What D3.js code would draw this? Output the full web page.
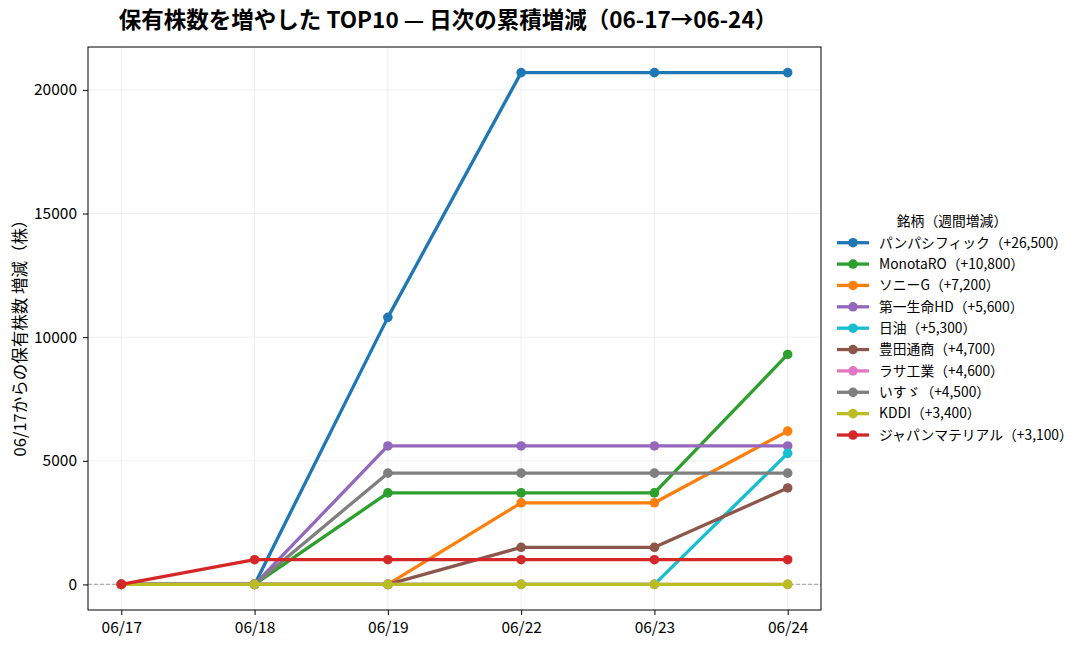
<!DOCTYPE html>
<html>
<head>
<meta charset="utf-8">
<script src="https://cdn.jsdelivr.net/npm/d3@7/dist/d3.min.js"></script>
<style>
  body { margin: 0; background: #fff; }
  text { font-family: "Noto Sans CJK JP", "Noto Sans", sans-serif; }
</style>
</head>
<body>
<div id="chart"></div>
<script>
const dates = ["06/17", "06/18", "06/19", "06/22", "06/23", "06/24"];
const names = ["パンパシフィック", "MonotaRO", "ソニーG", "第一生命HD", "日油", "豊田通商", "ラサ工業", "いすゞ", "KDDI", "ジャパンマテリアル"];
const weekly = [26500, 10800, 7200, 5600, 5300, 4700, 4600, 4500, 3400, 3100];
const colors = ["#1f77b4", "#2ca02c", "#ff7f0e", "#9467bd", "#17becf", "#8c564b", "#e377c2", "#7f7f7f", "#bcbd22", "#d62728"];
const values = [
  [0, 0, 10800, 20700, 20700, 20700],
  [0, 0, 3700, 3700, 3700, 9300],
  [0, 0, 0, 3300, 3300, 6200],
  [0, 0, 5600, 5600, 5600, 5600],
  [0, 0, 0, 0, 0, 5300],
  [0, 0, 0, 1500, 1500, 3900],
  [0, 0, 0, 0, 0, 0],
  [0, 0, 4500, 4500, 4500, 4500],
  [0, 0, 0, 0, 0, 0],
  [0, 1000, 1000, 1000, 1000, 1000]
];
const yTicks = [0, 5000, 10000, 15000, 20000];

const W = 1087, H = 649;
const plot = {left: 88, right: 821, top: 47, bottom: 610};

const svg = d3.select("#chart").append("svg")
  .attr("width", W).attr("height", H);

const x = d3.scalePoint()
  .domain(dates)
  .range([plot.left, plot.right])
  .padding(0.25);

const maxV = d3.max(values.flat()), minV = d3.min(values.flat());
const pad = (maxV - minV) * 0.05;
const y = d3.scaleLinear()
  .domain([minV - pad, maxV + pad])
  .range([plot.bottom, plot.top]);

// grid
svg.append("g").selectAll("line.gy")
  .data(yTicks).enter().append("line")
    .attr("x1", plot.left).attr("x2", plot.right)
    .attr("y1", d => y(d)).attr("y2", d => y(d))
    .attr("stroke", "#ebebeb").attr("stroke-width", 0.8);
svg.append("g").selectAll("line.gx")
  .data(dates).enter().append("line")
    .attr("x1", d => x(d)).attr("x2", d => x(d))
    .attr("y1", plot.top).attr("y2", plot.bottom)
    .attr("stroke", "#ebebeb").attr("stroke-width", 0.8);

// zero line
svg.append("line")
  .attr("x1", plot.left).attr("x2", plot.right)
  .attr("y1", y(0)).attr("y2", y(0))
  .attr("stroke", "#b0b0b0").attr("stroke-width", 1.2)
  .attr("stroke-dasharray", "4,2");

const line = d3.line()
  .x((d, i) => x(dates[i]))
  .y(d => y(d));

values.forEach((vals, k) => {
  const g = svg.append("g");
  g.append("path")
    .attr("d", line(vals))
    .attr("fill", "none")
    .attr("stroke", colors[k])
    .attr("stroke-width", 3.3)
    .attr("stroke-linejoin", "round");
  g.selectAll("circle")
    .data(vals).enter().append("circle")
      .attr("cx", (d, i) => x(dates[i]))
      .attr("cy", d => y(d))
      .attr("r", 4.8)
      .attr("fill", colors[k]);
});

// axes
const xAxis = svg.append("g")
  .attr("transform", "translate(0," + plot.bottom + ")")
  .call(d3.axisBottom(x).tickSizeOuter(0).tickSize(5).tickPadding(5));
const yAxis = svg.append("g")
  .attr("transform", "translate(" + plot.left + ",0)")
  .call(d3.axisLeft(y).tickValues(yTicks).tickFormat(d3.format("d"))
    .tickSizeOuter(0).tickSize(5).tickPadding(6));
[xAxis, yAxis].forEach(a => {
  a.select(".domain").remove();
  a.selectAll("text").attr("font-size", 15.5).attr("fill", "#000")
    .style("font-family", "'Noto Sans CJK JP', sans-serif");
  a.selectAll("line").attr("stroke", "#000").attr("stroke-width", 1);
});
xAxis.selectAll("text").attr("dy", "0.85em");

// frame
svg.append("rect")
  .attr("x", plot.left).attr("y", plot.top)
  .attr("width", plot.right - plot.left).attr("height", plot.bottom - plot.top)
  .attr("fill", "none").attr("stroke", "#000").attr("stroke-width", 1);

// title
svg.append("text")
  .attr("x", 448).attr("y", 28)
  .attr("text-anchor", "middle")
  .attr("font-size", 22.5).attr("font-weight", "bold")
  .text("保有株数を増やした TOP10 — 日次の累積増減（06-17→06-24）");

// y label
svg.append("text")
  .attr("transform", "translate(26,334) rotate(-90)")
  .attr("text-anchor", "middle")
  .attr("font-size", 16.5)
  .text("06/17からの保有株数 増減（株）");

// legend
const lg = svg.append("g").attr("transform", "translate(837,0)");
lg.append("text")
  .attr("x", 115).attr("y", 226)
  .attr("text-anchor", "middle")
  .attr("font-size", 13.8)
  .text("銘柄（週間増減）");
names.forEach((n, k) => {
  const yy = 242.7 + k * 21.37;
  lg.append("line")
    .attr("x1", 0).attr("x2", 32).attr("y1", yy).attr("y2", yy)
    .attr("stroke", colors[k]).attr("stroke-width", 3.3);
  lg.append("circle")
    .attr("cx", 16).attr("cy", yy).attr("r", 4.8).attr("fill", colors[k]);
  lg.append("text")
    .attr("x", 42).attr("y", yy + 4.8)
    .attr("font-size", 13.8)
    .text(n + "（+" + d3.format(",")(weekly[k]) + "）");
});
</script>
</body>
</html>
